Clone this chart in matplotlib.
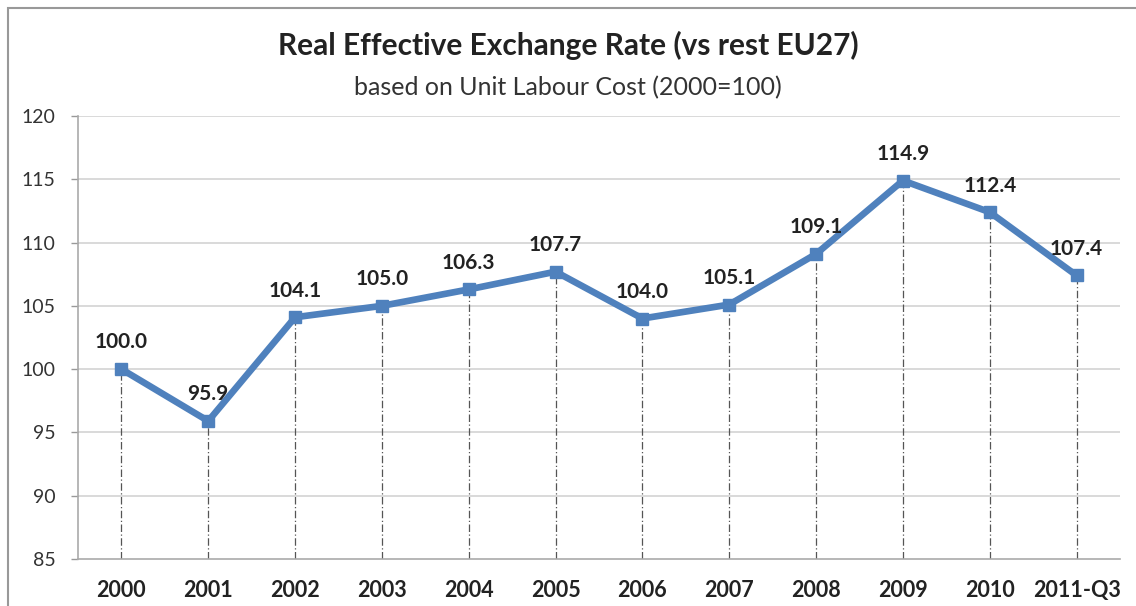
import matplotlib
matplotlib.use("Agg")
import matplotlib.pyplot as plt
from matplotlib.patches import Rectangle

categories = ["2000", "2001", "2002", "2003", "2004", "2005", "2006", "2007",
              "2008", "2009", "2010", "2011-Q3"]
values = [100.0, 95.9, 104.1, 105.0, 106.3, 107.7, 104.0, 105.1, 109.1, 114.9, 112.4, 107.4]
yticks = [85, 90, 95, 100, 105, 110, 115, 120]

plt.rcParams['font.family'] = ['Lato', 'DejaVu Sans']

W, H = 1136, 606
fig = plt.figure(figsize=(W / 100, H / 100), dpi=100)
ax = fig.add_axes([78 / W, 1 - 559 / H, (1120 - 78) / W, (559 - 116) / H])

x = list(range(len(categories)))
ymin, ymax = yticks[0], yticks[-1]

# horizontal gridlines
for yt in yticks[1:]:
    ax.axhline(yt, color="#d9d9d9", lw=1.4, zorder=0)

# drop lines
ax.vlines(x, ymin, values, colors="#555555", linestyles=(0, (6, 2, 1, 2)), lw=0.9, zorder=1)

ax.plot(x, values, color="#4f81bd", lw=4.8, marker="s", markersize=8.5,
        markerfacecolor="#4f81bd", markeredgecolor="#4f81bd", zorder=3)

for xi, v in zip(x, values):
    ax.annotate(f"{v:.1f}", (xi, v), xytext=(0, 12), textcoords="offset points",
                ha="center", va="bottom", fontsize=15, fontweight="bold", color="#222222")

ax.set_xlim(-0.5, len(categories) - 0.5)
ax.set_ylim(ymin, ymax)
ax.set_yticks(yticks)
ax.set_xticks(x)
ax.set_xticklabels(categories, fontweight="bold")
ax.tick_params(axis="y", length=5, width=1, color="#999999", labelsize=14, pad=11, labelcolor="#333333")
ax.tick_params(axis="x", length=0, labelsize=15.5, pad=15, labelcolor="#222222")
for s in ["top", "right"]:
    ax.spines[s].set_visible(False)
ax.spines["left"].set_color("#aaaaaa")
ax.spines["bottom"].set_color("#aaaaaa")
ax.spines["left"].set_linewidth(1.2)
ax.spines["bottom"].set_linewidth(1.2)

fig.text(0.5, 1 - 45 / H, "Real Effective Exchange Rate (vs rest EU27)", ha="center", va="center",
         fontsize=21.5, fontweight="bold", color="#222222")
fig.text(0.5, 1 - 88 / H, "based on Unit Labour Cost (2000=100)", ha="center", va="center",
         fontsize=18, color="#333333")

fig.patches.append(Rectangle((7.5 / W, -0.1), 1.2, 1 - 8 / H + 0.1, transform=fig.transFigure,
                             fill=False, edgecolor="#999999", lw=1.5))

fig.savefig("out.png", dpi=100)
